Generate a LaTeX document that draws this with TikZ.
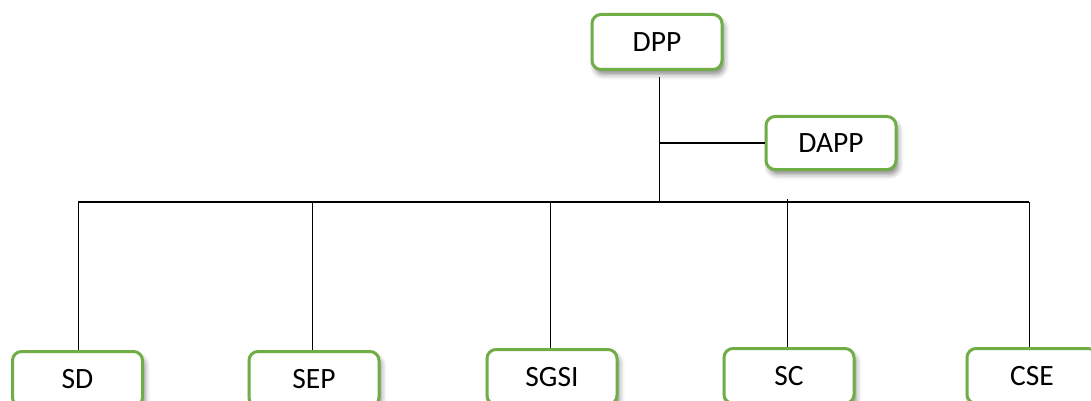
\documentclass[tikz,border=0pt]{standalone}
\usepackage{fontspec}
\setmainfont{Carlito}
\usetikzlibrary{shadows.blur}
\definecolor{boxgreen}{RGB}{112,173,71}
\tikzset{
  unit/.style={
    draw=boxgreen, line width=3pt, fill=white, rounded corners=9pt,
    minimum width=130pt, minimum height=55pt, inner sep=0pt,
    font=\fontsize{29.5}{34}\selectfont,
    blur shadow={shadow xshift=2.5pt, shadow yshift=-5pt,
                 shadow blur radius=5pt, shadow opacity=45}},
  link/.style={draw=black, line width=1.5pt}
}
\begin{document}
\begin{tikzpicture}[x=1pt,y=-1pt]
\useasboundingbox (0,0) rectangle (1091,401);

% head of the organisation and its deputy
\node[unit] (dpp)  at (657,42)  {DPP};
\node[unit, minimum height=53pt] (dapp) at (831,143) {DAPP};

% services
\node[unit] (sd)   at (77.5,379) {SD};
\node[unit] (sep)  at (314,379)  {SEP};
\node[unit] (sgsi) at (552,377)  {SGSI};
\node[unit] (sc)   at (789,376)  {SC};
\node[unit] (cse)  at (1032,376) {CSE};

% junction points of the tree
\coordinate (trunk) at (659.3,77);
\coordinate (bar)   at (659.3,202);
\coordinate (side)  at (659.3,143);
\coordinate (barL)  at (78.3,202);
\coordinate (barR)  at (1029.3,202);

\draw[link] (trunk) -- (bar);
\draw[link] (side) -- (dapp.west);
\draw[link] (barL) -- (barR);

\draw[link] (barL) -- (barL |- sd.north);
\draw[link] (312.7,202) -- (312.7,0 |- sep.north);
\draw[link] (550.3,202) -- (550.3,0 |- sgsi.north);
\draw[link] (787.7,199) -- (787.7,0 |- sc.north);
\draw[link] (barR) -- (barR |- cse.north);
\end{tikzpicture}
\end{document}
